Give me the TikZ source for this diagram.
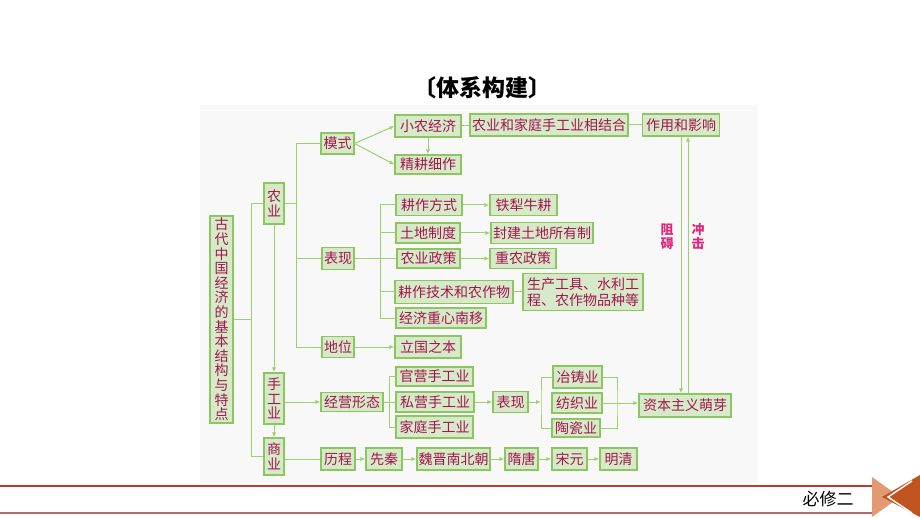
\documentclass[tikz,border=0pt]{standalone}
\usepackage{fontspec}
\usetikzlibrary{arrows.meta,positioning,calc}
\newfontfamily\cjk{Noto Sans CJK SC}

\definecolor{boxfill}{HTML}{D6EACA}
\definecolor{boxline}{HTML}{8CC65E}
\definecolor{linkgreen}{HTML}{9CD070}
\definecolor{boxtext}{HTML}{A3154F}
\definecolor{notetext}{HTML}{E0287A}
\definecolor{panelbg}{HTML}{F8F8F8}
\definecolor{footred}{HTML}{C0392B}
\definecolor{footgray}{HTML}{B06A6A}
\definecolor{iconlight}{HTML}{E39A73}
\definecolor{icondark}{HTML}{C0531E}

\tikzset{
  box/.style={draw=boxline, fill=boxfill, line width=1.1pt, text=boxtext,
    inner sep=0pt, align=center, font=\cjk\fontsize{14}{14.6}\selectfont},
  link/.style={draw=linkgreen, line width=1pt},
  arr/.style={link, -{Latex[length=5pt,width=4pt]}},
  note/.style={text=notetext, align=center, font=\cjk\bfseries\fontsize{13}{14}\selectfont},
}

\begin{document}
\begin{tikzpicture}[x=1pt,y=-1pt]
        \useasboundingbox (0,0) rectangle (920,518);
        \fill[panelbg] (200,105) rectangle (758,483);

        \node[font=\cjk\bfseries\fontsize{23}{23}\selectfont] (title) at (482,88) {〔体系构建〕};

        % left column
        \node[box, minimum width=23, minimum height=207] (root) at (221.5,319.5)
            {古\\代\\中\\国\\经\\济\\的\\基\\本\\结\\构\\与\\特\\点};
        \node[box, minimum width=20, minimum height=41] (nongye) at (274,203.5) {农\\业};
        \node[box, minimum width=20, minimum height=51] (shougong) at (274,398.5) {手\\工\\业};
        \node[box, minimum width=20, minimum height=37] (shangye) at (274,456.5) {商\\业};

        % agriculture
        \node[box, minimum width=33, minimum height=21] (moshi) at (337.5,143.5) {模式};
        \node[box, minimum width=66, minimum height=22] (xiaonong) at (428,126) {小农经济};
        \node[box, minimum width=66, minimum height=19] (jinggeng) at (428,164.5) {精耕细作};
        \node[box, minimum width=158, minimum height=22] (jiehe) at (549,125) {农业和家庭手工业相结合};
        \node[box, minimum width=77, minimum height=22] (zuoyong) at (681,125) {作用和影响};

        \node[box, minimum width=32, minimum height=22] (biaoxian) at (338,258.5) {表现};
        \node[box, minimum width=66, minimum height=21] (gengzuo) at (429,205) {耕作方式};
        \node[box, minimum width=64, minimum height=20] (tudi) at (428,233) {土地制度};
        \node[box, minimum width=63, minimum height=19] (zhengce) at (428.5,258.5) {农业政策};
        \node[box, minimum width=118, minimum height=23] (jishu) at (454,292) {耕作技术和农作物};
        \node[box, minimum width=90, minimum height=20] (zhongxin) at (441,318) {经济重心南移};
        \node[box, minimum width=67, minimum height=21] (tieli) at (523.5,205) {铁犁牛耕};
        \node[box, minimum width=102, minimum height=21] (fengjian) at (542,233) {封建土地所有制};
        \node[box, minimum width=66, minimum height=20] (zhongnong) at (523,258.5) {重农政策};
        \node[box, minimum width=120, minimum height=37,
              font=\cjk\fontsize{14}{16}\selectfont] (gongju) at (583,292)
            {生产工具、水利工\\程、农作物品种等};

        \node[box, minimum width=32, minimum height=21] (diwei) at (338,347) {地位};
        \node[box, minimum width=66, minimum height=22] (liguo) at (428,347) {立国之本};

        % handicraft
        \node[box, minimum width=62, minimum height=19] (jingying) at (352,402) {经营形态};
        \node[box, minimum width=77, minimum height=19] (guanying) at (434.5,376.5) {官营手工业};
        \node[box, minimum width=78, minimum height=20] (siying) at (435,402) {私营手工业};
        \node[box, minimum width=77, minimum height=22] (jiating) at (434.5,427) {家庭手工业};
        \node[box, minimum width=35, minimum height=21] (biaoxianb) at (510.5,402) {表现};
        \node[box, minimum width=49, minimum height=22] (yezhu) at (577.5,377) {冶铸业};
        \node[box, minimum width=50, minimum height=20] (fangzhi) at (577,403) {纺织业};
        \node[box, minimum width=48, minimum height=18] (taoci) at (576,428) {陶瓷业};
        \node[box, minimum width=92, minimum height=23] (ziben) at (685,405.5) {资本主义萌芽};

        % commerce
        \node[box, minimum width=34, minimum height=22] (licheng) at (338,459) {历程};
        \node[box, minimum width=36, minimum height=22] (xianqin) at (384,459) {先秦};
        \node[box, minimum width=73, minimum height=22] (weijin) at (453.5,459) {魏晋南北朝};
        \node[box, minimum width=33, minimum height=22] (suitang) at (521.5,459) {隋唐};
        \node[box, minimum width=35, minimum height=22] (songyuan) at (569.5,459) {宋元};
        \node[box, minimum width=37, minimum height=22] (mingqing) at (618.5,459) {明清};

        % root bus
        \coordinate (rb) at ($(root.east)+(18,0)$);
        \draw[link] (root.east) -- (rb);
        \draw[link] (nongye.west) -| (rb) |- (shangye.west);

        % agriculture bus
        \coordinate (nb) at ($(nongye.east)+(12,0)$);
        \draw[link] (nongye.east) -- (nb);
        \draw[link] (moshi.west) -| (nb) |- (diwei.west);
        \draw[link] (nb |- biaoxian.west) -- (biaoxian.west);

        \draw[arr] (moshi.east) -- (xiaonong.west);
        \draw[arr] (moshi.east) -- (jinggeng.west);
        \draw[arr] (xiaonong.south) -- (jinggeng.north);
        \draw[link] (xiaonong.east) -- (xiaonong.east -| jiehe.west);
        \draw[link] (jiehe.east) -- (zuoyong.west);

        \coordinate (bb) at ($(biaoxian.east)+(26,0)$);
        \draw[link] (biaoxian.east) -- (zhengce.west);
        \draw[link] (gengzuo.west) -| (bb) |- (zhongxin.west);
        \draw[link] (bb |- tudi.west) -- (tudi.west);
        \draw[link] (bb |- jishu.west) -- (jishu.west);
        \draw[arr] (gengzuo.east) -- (tieli.west);
        \draw[arr] (tudi.east) -- (fengjian.west);
        \draw[arr] (zhengce.east) -- (zhongnong.west);
        \draw[link] (jishu.east) -- (gongju.west);
        \draw[arr] (diwei.east) -- (liguo.west);

        % handicraft links
        \draw[arr] (nongye.south) -- (shougong.north);
        \draw[arr] (shougong.south) -- (shangye.north);
        \draw[arr] (jingying.west -| shougong.east) -- (jingying.west);
        \coordinate (jb) at ($(jingying.east)+(6,0)$);
        \draw[link] (jingying.east) -- (siying.west);
        \draw[link] (guanying.west) -| (jb) |- (jiating.west);
        \draw[arr] (siying.east) -- (biaoxianb.west);
        \coordinate (cb) at (541,402);
        \draw[arr] (biaoxianb.east) -- (cb);
        \draw[link] (yezhu.west) -| (cb) |- (taoci.west);
        \coordinate (db) at (617,403);
        \draw[link] (yezhu.east) -| (db) |- (taoci.east);
        \draw[arr] (fangzhi.east) -- (fangzhi.east -| ziben.west);

        % hinder / impact
        \draw[arr] (zuoyong.south) -- (zuoyong.south |- ziben.north);
        \draw[arr] ([xshift=7pt]zuoyong.south |- ziben.north) -- ([xshift=7pt]zuoyong.south);
        \node[note] (zuai) at (667,237) {阻\\碍};
        \node[note] (chongji) at (698,237) {冲\\击};

        % commerce chain
        \draw[link] (licheng.west -| shangye.east) -- (licheng.west);
        \foreach \a/\b in {licheng/xianqin, xianqin/weijin, weijin/suitang,
                           suitang/songyuan, songyuan/mingqing}
            \draw[arr] (\a) -- (\b);

        % footer
        \draw[footred, line width=1.5pt] (0,486) -- (872,486);
        \draw[footgray, line width=1.5pt] (0,513) -- (872,513);
        \node[font=\cjk\fontsize{17}{17}\selectfont] (bixiu) at (828,499) {必修二};
        \fill[iconlight] (872,477) -- (900,497) -- (872,517) -- cycle;
        \fill[icondark] (920,475) -- (882,497) -- (920,517) -- cycle;
        \draw[white, line width=1.5pt] (912,481) -- (888,497) -- (912,513);
\end{tikzpicture}
\end{document}
